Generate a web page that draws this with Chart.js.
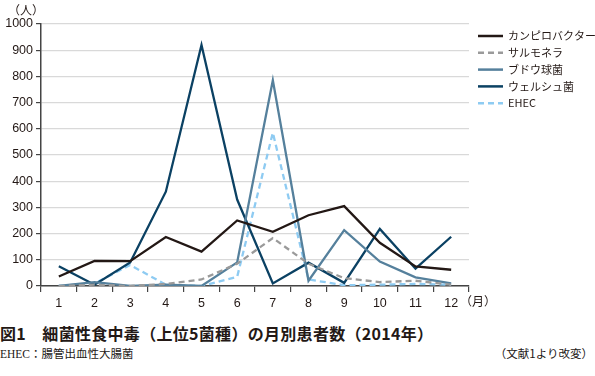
<!DOCTYPE html>
<html>
<head>
<meta charset="utf-8">
<script src="https://cdn.jsdelivr.net/npm/chart.js@4"></script>
<style>
  body { margin: 0; background: #fff; width: 595px; height: 376px; position: relative; overflow: hidden;
         font-family: "Liberation Sans", "Noto Sans CJK JP", sans-serif; color: #231815; }
  #wrap { position: absolute; left: 0; top: 0; width: 595px; height: 315px; }
  .cap { position: absolute; white-space: nowrap; }
  #title { left: 0; top: 321px; font-size: 16px; font-weight: bold; font-family: "Noto Sans CJK JP", sans-serif; letter-spacing: 0.3px; }
  #note { left: 0; top: 345px; font-size: 11.5px; font-family: "Liberation Serif", "Noto Sans CJK JP", serif; }
  #src { right: 2px; top: 345px; font-size: 11.5px; font-family: "Noto Sans CJK JP", serif; }
</style>
</head>
<body>
<div id="wrap"><canvas id="chart" width="595" height="315"></canvas></div>
<div class="cap" id="title">図1　細菌性食中毒（上位5菌種）の月別患者数（2014年）</div>
<div class="cap" id="note">EHEC：腸管出血性大腸菌</div>
<div class="cap" id="src">（文献1より改変）</div>
<script>
// 月
const months = ['1', '2', '3', '4', '5', '6', '7', '8', '9', '10', '11', '12'];
const yTicks = [0, 100, 200, 300, 400, 500, 600, 700, 800, 900, 1000];

// 菌種ごとの患者数
const campylobacter = [36, 96, 95, 187, 131, 250, 207, 270, 305, 165, 75, 62];
const salmonella    = [0, 5, 0, 8, 25, 85, 183, 85, 30, 15, 20, 5];
const staph         = [0, 15, 0, 5, 0, 90, 785, 20, 213, 93, 33, 10];
const perfringens   = [75, 5, 90, 360, 920, 330, 10, 89, 12, 218, 66, 188];
const ehec          = [0, 10, 80, 5, 0, 35, 585, 25, 3, 5, 8, 5];

const names = ['カンピロバクター', 'サルモネラ', 'ブドウ球菌', 'ウェルシュ菌', 'EHEC'];

const legendPlugin = {
  id: 'sideLegend',
  afterDraw(chart) {
    const ctx = chart.ctx;
    ctx.save();
    ctx.font = '11px "Noto Sans CJK JP", sans-serif';
    ctx.textBaseline = 'middle';
    chart.data.datasets.forEach((ds, i) => {
      const y = 36 + i * 16.8;
      ctx.strokeStyle = ds.borderColor;
      ctx.lineWidth = 2.5;
      ctx.setLineDash(ds.borderDash || []);
      ctx.beginPath();
      ctx.moveTo(478, y);
      ctx.lineTo(503, y);
      ctx.stroke();
      ctx.setLineDash([]);
      ctx.fillStyle = '#231815';
      ctx.fillText(ds.label, 508, y);
    });
    // 単位
    ctx.font = '12px "Noto Sans CJK JP", sans-serif';
    ctx.fillText('（人）', 8, 10);
    ctx.fillText('（月）', 460, chart.chartArea.bottom + 15);
    ctx.restore();
  }
};

function line(label, data, color, dash) {
  return {
    label, data,
    borderColor: color,
    backgroundColor: color,
    borderWidth: 2.3,
    borderDash: dash || [],
    pointRadius: 0,
    tension: 0,
    fill: false
  };
}

new Chart(document.getElementById('chart'), {
  type: 'line',
  data: {
    labels: months,
    datasets: [
      line(names[0], campylobacter, '#231815'),
      line(names[1], salmonella, '#9a9a9a', [6, 4]),
      line(names[2], staph, '#55809c'),
      line(names[3], perfringens, '#0b4163'),
      line(names[4], ehec, '#8ecbf2', [6, 4])
    ]
  },
  options: {
    responsive: false,
    animation: false,
    layout: { padding: { top: 24, right: 126, left: 0, bottom: 0 } },
    plugins: { legend: { display: false }, tooltip: { enabled: false } },
    scales: {
      x: {
        offset: true,
        grid: { offset: true, drawOnChartArea: false, drawTicks: true, tickLength: 6, tickColor: '#444', lineWidth: 1.2 },
        border: { color: '#444', width: 1.5 },
        ticks: { color: '#231815', font: { size: 12.5, family: '"Liberation Sans", sans-serif' }, maxRotation: 0, padding: 4 },
        afterFit: s => { s.height = 29; }
      },
      y: {
        min: 0, max: 1000,
        afterBuildTicks: s => { s.ticks = yTicks.map(v => ({ value: v })); },
        grid: { color: '#d9d9d9', lineWidth: 1.2, tickLength: 5, tickColor: '#444' },
        border: { color: '#444', width: 1.5 },
        ticks: { color: '#231815', font: { size: 12.5, family: '"Liberation Sans", sans-serif' }, padding: 3,
                 callback: v => String(v) },
        afterFit: s => { s.width = 41; }
      }
    }
  },
  plugins: [legendPlugin]
});
</script>
</body>
</html>
